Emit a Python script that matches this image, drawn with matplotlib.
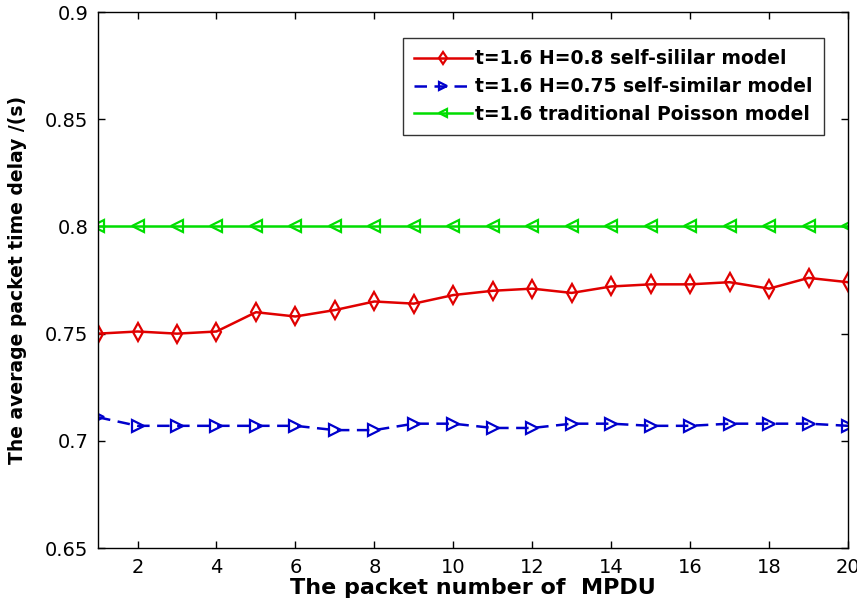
import matplotlib
matplotlib.use("Agg")
import matplotlib.pyplot as plt

x = list(range(1, 21))
red_vals = [0.750, 0.751, 0.750, 0.751, 0.760, 0.758, 0.761, 0.765, 0.764, 0.768,
            0.770, 0.771, 0.769, 0.772, 0.773, 0.773, 0.774, 0.771, 0.776, 0.774]
blue_vals = [0.711, 0.707, 0.707, 0.707, 0.707, 0.707, 0.705, 0.705, 0.708, 0.708,
             0.706, 0.706, 0.708, 0.708, 0.707, 0.707, 0.708, 0.708, 0.708, 0.707]
green_vals = [0.8] * 20
labels = ["t=1.6 H=0.8 self-sililar model",
          "t=1.6 H=0.75 self-similar model",
          "t=1.6 traditional Poisson model"]
xticks = [2, 4, 6, 8, 10, 12, 14, 16, 18, 20]
yticks = [0.65, 0.7, 0.75, 0.8, 0.85, 0.9]
ytick_labels = ["0.65", "0.7", "0.75", "0.8", "0.85", "0.9"]

plt.rcParams['font.family'] = ['DejaVu Sans']
fig = plt.figure(figsize=(8.57, 6.05), dpi=100)
ax = fig.add_axes([0.1144, 0.0942, 0.8751, 0.8858])

red = '#e00000'
blue = '#0000cc'
green = '#00dd00'
ax.plot(x, red_vals, color=red, lw=1.8, marker='d', ms=9, mfc='none',
        mec=red, mew=1.6, label=labels[0])
ax.plot(x, blue_vals, color=blue, lw=1.8, ls=(0, (5, 3)), marker='>', ms=9,
        mfc='none', mec=blue, mew=1.6, label=labels[1])
ax.plot(x, green_vals, color=green, lw=1.8, marker='<', ms=9, mfc='none',
        mec=green, mew=1.6, label=labels[2])

ax.set_xlim(1, 20)
ax.set_ylim(0.65, 0.9)
ax.set_xticks(xticks)
ax.set_yticks(yticks)
ax.set_yticklabels(ytick_labels)
ax.tick_params(direction='in', length=5, top=True, right=True, labelsize=14,
               width=1, pad=7)
for s in ax.spines.values():
    s.set_linewidth(1)

ax.set_xlabel("The packet number of  MPDU", fontsize=16, fontweight='bold', labelpad=1)
ax.set_ylabel("The average packet time delay /(s)", fontsize=13.5, fontweight='bold', labelpad=13)

leg = ax.legend(loc='upper right', bbox_to_anchor=(824 / 857, 1 - 38 / 605),
                bbox_transform=fig.transFigure,
                prop={'weight': 'bold', 'size': 13.5}, frameon=True, fancybox=False,
                edgecolor='black', handlelength=3.05, borderpad=0.6,
                labelspacing=0.47, handletextpad=0.2, borderaxespad=0,
                markerscale=0.7)
leg.get_frame().set_linewidth(1)

fig.savefig("out.png", dpi=100)
